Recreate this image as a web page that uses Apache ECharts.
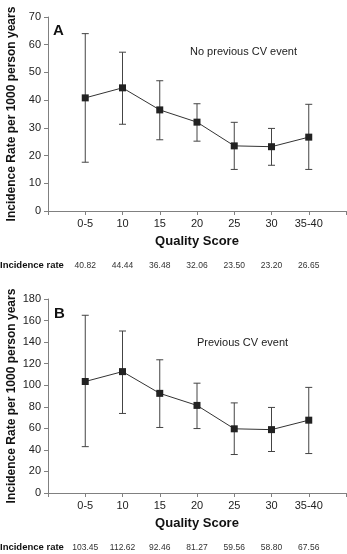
<!DOCTYPE html>
<html><head><meta charset="utf-8">
<script src="https://cdn.jsdelivr.net/npm/echarts@6/dist/echarts.min.js"></script>
<style>html,body{margin:0;padding:0;background:#fff}#c{width:347px;height:554px}</style>
</head><body><div id="c"></div>
<script>
var categories = ['0-5','10','15','20','25','30','35-40'];
var ratesA = [40.82, 44.44, 36.48, 32.06, 23.50, 23.20, 26.65];
var lowA   = [17.6, 31.3, 25.7, 25.2, 15.0, 16.5, 15.0];
var highA  = [64.0, 57.3, 47.0, 38.7, 32.0, 29.8, 38.5];
var ratesB = [103.45, 112.62, 92.46, 81.27, 59.56, 58.80, 67.56];
var lowB   = [43.0, 73.8, 60.8, 59.8, 35.7, 38.5, 36.6];
var highB  = [164.9, 150.3, 123.6, 101.9, 83.6, 79.4, 98.0];
var rateLabelsA = ['40.82','44.44','36.48','32.06','23.50','23.20','26.65'];
var rateLabelsB = ['103.45','112.62','92.46','81.27','59.56','58.80','67.56'];

var FONT = '"Liberation Sans", Arial, sans-serif';
var AX = '#808080';
var chart = echarts.init(document.getElementById('c'), null, {renderer:'canvas'});

function pts(vals){ return vals.map(function(v,i){ return [i+1, v]; }); }
function errData(lo,hi){ return lo.map(function(l,i){ return [i+1, l, hi[i]]; }); }
function catFmt(v){ return (v>=1 && v<=7) ? categories[v-1] : ''; }

function xMain(gi){
  return {
    gridIndex: gi, type:'value', min:0, max:8, interval:1,
    name:'Quality Score', nameLocation:'middle', nameGap:24, nameMoveOverlap:false,
    nameTextStyle:{fontFamily:FONT, fontWeight:'bold', fontSize:13, color:'#111'},
    axisLine:{lineStyle:{color:AX, width:1}},
    axisTick:{show:true, length:4, lineStyle:{color:AX}},
    axisLabel:{fontFamily:FONT, fontSize:11, color:'#222', margin:7, formatter:catFmt},
    splitLine:{show:false}
  };
}
function xRates(gi, labels){
  return {
    gridIndex: gi, type:'value', min:0, max:8, interval:1, position:'bottom',
    axisLine:{show:false}, axisTick:{show:false}, splitLine:{show:false},
    axisLabel:{fontFamily:FONT, fontSize:8.5, color:'#333', margin:50,
      formatter:function(v){ return (v>=1 && v<=7) ? labels[v-1] : ''; }}
  };
}
function yAxis(gi, max, interval){
  return {
    gridIndex: gi, type:'value', min:0, max:max, interval:interval,
    name:'Incidence Rate per 1000 person years', nameLocation:'middle', nameGap:30, nameRotate:90,
    nameMoveOverlap:false,
    nameTextStyle:{fontFamily:FONT, fontWeight:'bold', fontSize:12, color:'#111'},
    axisLine:{show:true, lineStyle:{color:AX, width:1}},
    axisTick:{show:true, length:4, lineStyle:{color:AX}},
    axisLabel:{fontFamily:FONT, fontSize:11, color:'#222', margin:7},
    splitLine:{show:false}
  };
}
function errSeries(xi, yi, lo, hi){
  return {
    type:'custom', xAxisIndex:xi, yAxisIndex:yi, data:errData(lo,hi), z:1,
    renderItem:function(params, api){
      var x = api.value(0);
      var a = api.coord([x, api.value(1)]);
      var b = api.coord([x, api.value(2)]);
      var w = 3.5;
      var st = {stroke:'#444', lineWidth:1};
      return {type:'group', children:[
        {type:'line', shape:{x1:a[0], y1:a[1], x2:b[0], y2:b[1]}, style:st},
        {type:'line', shape:{x1:a[0]-w, y1:a[1], x2:a[0]+w, y2:a[1]}, style:st},
        {type:'line', shape:{x1:b[0]-w, y1:b[1], x2:b[0]+w, y2:b[1]}, style:st}
      ]};
    }
  };
}
function lineSeries(xi, yi, vals){
  return {
    type:'line', xAxisIndex:xi, yAxisIndex:yi, data:pts(vals), z:3,
    symbol:'rect', symbolSize:7, showSymbol:true,
    itemStyle:{color:'#222'}, lineStyle:{color:'#333', width:1},
    animation:false
  };
}

chart.setOption({
  animation:false,
  grid:[
    {left:48, top:17, width:298, height:194, containLabel:false, outerBoundsMode:'none'},
    {left:48, top:299, width:298, height:194, containLabel:false, outerBoundsMode:'none'}
  ],
  xAxis:[xMain(0), xRates(0, rateLabelsA), xMain(1), xRates(1, rateLabelsB)],
  yAxis:[yAxis(0, 70, 10), yAxis(1, 180, 20)],
  series:[
    errSeries(0, 0, lowA, highA),
    lineSeries(0, 0, ratesA),
    errSeries(2, 1, lowB, highB),
    lineSeries(2, 1, ratesB)
  ],
  graphic:[
    {type:'text', left:53, top:23, style:{text:'A', font:'bold 15px '+FONT, fill:'#111'}},
    {type:'text', left:54, top:306, style:{text:'B', font:'bold 15px '+FONT, fill:'#111'}},
    {type:'text', left:190, top:46, style:{text:'No previous CV event', font:'11px '+FONT, fill:'#222'}},
    {type:'text', left:197, top:337, style:{text:'Previous CV event', font:'11px '+FONT, fill:'#222'}},
    {type:'text', left:0, top:260, style:{text:'Incidence rate', font:'bold 9.5px '+FONT, fill:'#111'}},
    {type:'text', left:0, top:542, style:{text:'Incidence rate', font:'bold 9.5px '+FONT, fill:'#111'}}
  ]
});
</script></body></html>
